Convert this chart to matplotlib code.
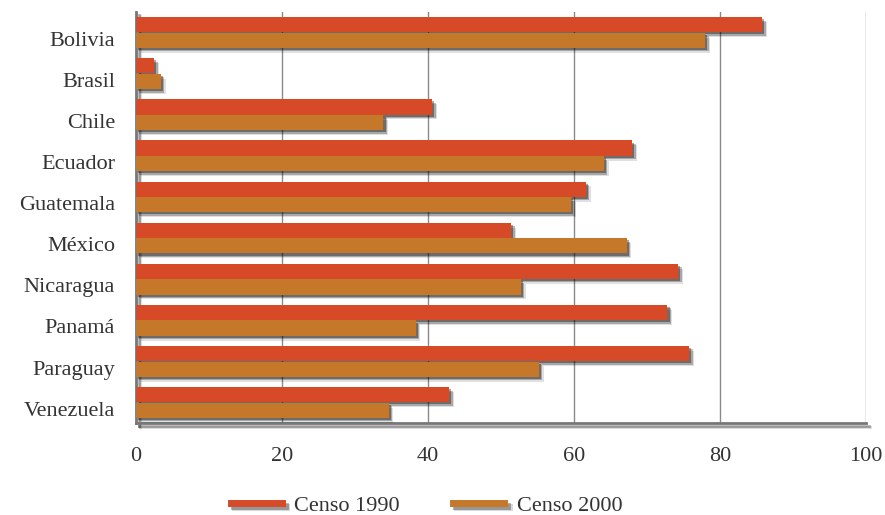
import matplotlib.pyplot as plt
import matplotlib.patheffects as pe
from matplotlib.lines import Line2D
import numpy as np

paises = ["Bolivia", "Brasil", "Chile", "Ecuador", "Guatemala",
          "México", "Nicaragua", "Panamá", "Paraguay", "Venezuela"]
censo_1990 = [85.8, 2.5, 40.6, 68.0, 61.6, 51.4, 74.3, 72.8, 75.8, 42.9]
censo_2000 = [78.0, 3.4, 33.9, 64.1, 59.6, 67.2, 52.7, 38.3, 55.2, 34.6]

rojo = "#D64A28"
naranja = "#C5782A"
texto = "#333333"

plt.rcParams["font.family"] = ["Liberation Serif", "DejaVu Serif"]

# soft drop shadow built from a few stacked offset copies
sombra = [
    pe.SimplePatchShadow(offset=(3.5, -3.5), shadow_rgbFace="#000000", alpha=0.12),
    pe.SimplePatchShadow(offset=(2.5, -2.5), shadow_rgbFace="#000000", alpha=0.25),
    pe.SimplePatchShadow(offset=(1.5, -1.5), shadow_rgbFace="#000000", alpha=0.35),
    pe.Normal(),
]
sombra_linea = [
    pe.SimpleLineShadow(offset=(3, -3), shadow_color="#000000", alpha=0.15),
    pe.SimpleLineShadow(offset=(2, -2), shadow_color="#000000", alpha=0.3),
    pe.Normal(),
]

fig = plt.figure(figsize=(8.85, 5.15), dpi=100)
ax = fig.add_axes([0.1537, 0.1786, 0.8248, 0.7981])

y = np.arange(len(paises))
h = 0.37
b1 = ax.barh(y - 0.19, censo_1990, height=h, color=rojo, zorder=3)
b2 = ax.barh(y + 0.19, censo_2000, height=h, color=naranja, zorder=3)
for bar in list(b1) + list(b2):
    bar.set_path_effects(sombra)

ax.set_xlim(0, 100)
ax.set_ylim(len(paises) - 0.5, -0.5)
ax.set_xticks(range(0, 101, 20))
# country names sit slightly below the centre of each pair
ax.set_yticks(y + 0.15)
ax.set_yticklabels(paises)
ax.tick_params(axis="both", length=0, colors=texto, labelsize=16)
ax.tick_params(axis="x", pad=17)
ax.tick_params(axis="y", pad=15)

ax.grid(axis="x", color="#8a8a8a", linewidth=1, zorder=0)
for lado in ["top", "right"]:
    ax.spines[lado].set_visible(False)
for lado in ["left", "bottom"]:
    ax.spines[lado].set_color("#777777")
    ax.spines[lado].set_linewidth(2)
    ax.spines[lado].set_path_effects(sombra_linea)

handles = [Line2D([], [], color=rojo, linewidth=5, path_effects=sombra_linea),
           Line2D([], [], color=naranja, linewidth=5, path_effects=sombra_linea)]
fig.legend(handles, ["Censo 1990", "Censo 2000"], loc="center",
           bbox_to_anchor=(0.482, 0.018), ncol=2, frameon=False,
           handlelength=2.3, columnspacing=2.4, handletextpad=0.55,
           prop={"size": 16}, labelcolor=texto)

fig.savefig("out.png", dpi=100)
